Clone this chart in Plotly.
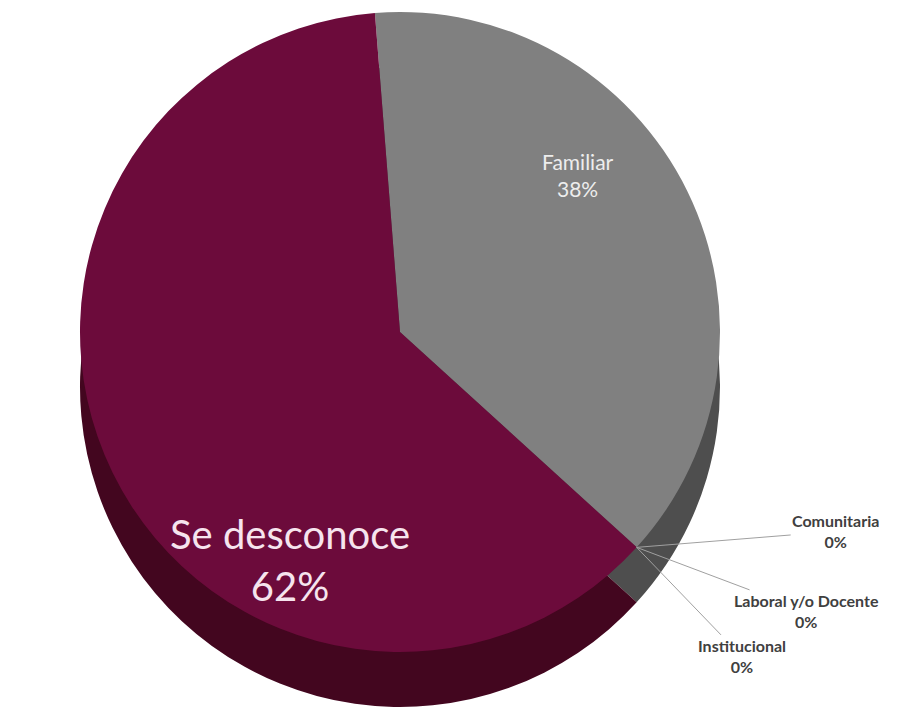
import math
import plotly.graph_objects as go

labels = ["Familiar", "Comunitaria", "Laboral y/o Docente", "Institucional", "Se desconoce"]
values = [38, 0, 0, 0, 62]
top_colors = ["#808080", "#5B9BD5", "#A5A5A5", "#FFC000", "#6C0B3B"]
side_colors = ["#4E4E4E", "#3A6A99", "#6E6E6E", "#A07A00", "#43061F"]

W, H = 900, 711
D = 640          # pie diameter in px
cx, top = 392, 4  # centre x and top edge of the upper pie
depth = 55

def dom(y_top_px):
    return dict(x=[(cx - D / 2) / W, (cx + D / 2) / W],
                y=[1 - (y_top_px + D) / H, 1 - y_top_px / H])

fig = go.Figure()
# side (depth) of the 3D pie
fig.add_trace(go.Pie(
    labels=labels, values=values, sort=False, direction="clockwise", rotation=-4.5,
    marker=dict(colors=side_colors, line=dict(width=0)),
    textinfo="none", hoverinfo="skip", domain=dom(top + depth), showlegend=False))
# top face
fig.add_trace(go.Pie(
    labels=labels, values=values, sort=False, direction="clockwise", rotation=-4.5,
    marker=dict(colors=top_colors, line=dict(width=0)),
    textinfo="none", domain=dom(top), showlegend=False))

total = sum(values)
pct = [f"{round(100 * v / total)}%" for v in values]

font_fam = "Lato, Open Sans, sans-serif"
annotations = [
    dict(x=570 / W, y=1 - 167 / H, xref="paper", yref="paper",
         xanchor="center", yanchor="middle",
         text=f"{labels[0]}<br>{pct[0]}", showarrow=False,
         font=dict(family=font_fam, size=21, color="#EDEDED")),
    dict(x=282 / W, y=1 - 552 / H, xref="paper", yref="paper",
         xanchor="center", yanchor="middle",
         text=f"{labels[4]}<br>{pct[4]}", showarrow=False,
         font=dict(family=font_fam, size=40, color="#F6E4EE")),
]

# boundary point between Familiar and Se desconoce (where the 0% slices sit)
frac = values[0] / total
ang = math.radians(-4.5 + 360 * frac)
r = D / 2
bx = cx + r * math.sin(ang)
by = top + r - r * math.cos(ang)
small_font = dict(family=font_fam, size=16, color="#404040")
offsets = [(199, -16), (170, 64), (105, 109)]
for i, (ax, ay) in zip([1, 2, 3], offsets):
    annotations.append(dict(
        x=bx / W, y=1 - by / H, xref="paper", yref="paper",
        text=f"<b>{labels[i]}</b><br><b>{pct[i]}</b>", showarrow=True,
        arrowhead=0, arrowwidth=1, arrowcolor="#A0A0A0", ax=ax, ay=ay,
        font=small_font))

fig.update_layout(
    width=W, height=H, margin=dict(l=0, r=0, t=0, b=0),
    paper_bgcolor="white", plot_bgcolor="white",
    annotations=annotations)

fig.write_html("out.html")
